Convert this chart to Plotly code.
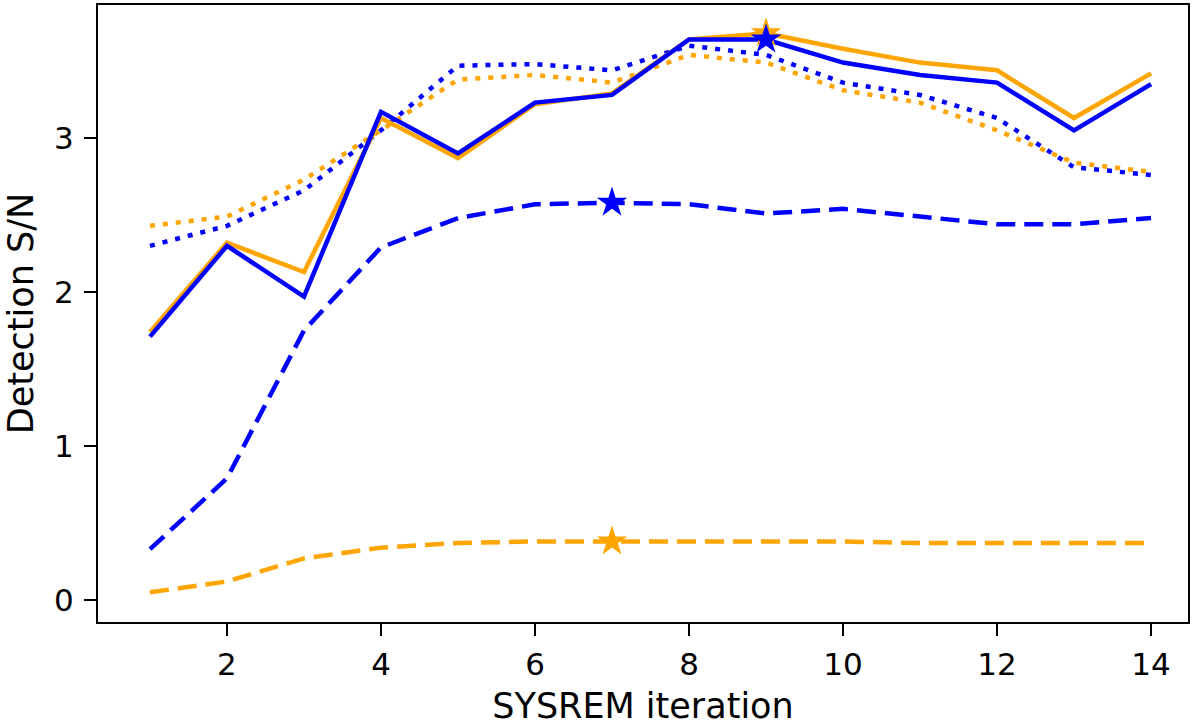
import plotly.graph_objects as go

iterations = list(range(1, 15))
orange_solid = [1.74, 2.32, 2.13, 3.13, 2.87, 3.22, 3.29, 3.64, 3.68, 3.58, 3.49, 3.44, 3.13, 3.42]
blue_solid = [1.71, 2.30, 1.97, 3.17, 2.90, 3.23, 3.28, 3.64, 3.64, 3.49, 3.41, 3.36, 3.05, 3.35]
orange_dotted = [2.43, 2.49, 2.73, 3.05, 3.38, 3.41, 3.36, 3.54, 3.49, 3.31, 3.23, 3.05, 2.84, 2.78]
blue_dotted = [2.30, 2.43, 2.66, 3.05, 3.47, 3.48, 3.44, 3.60, 3.54, 3.36, 3.28, 3.13, 2.81, 2.76]
blue_dashed = [0.33, 0.79, 1.75, 2.29, 2.48, 2.57, 2.58, 2.57, 2.51, 2.54, 2.49, 2.44, 2.44, 2.48]
orange_dashed = [0.05, 0.12, 0.27, 0.34, 0.37, 0.38, 0.38, 0.38, 0.38, 0.38, 0.37, 0.37, 0.37, 0.37]

# best-iteration markers (iteration number)
star_orange_solid = 9
star_blue_solid = 9
star_blue_dashed = 7
star_orange_dashed = 7

ORANGE = "#FFA500"
BLUE = "#0000FF"
DASH = "19px,9px"
DOT = "5px,8px"

fig = go.Figure()

def add_line(y, color, dash):
    fig.add_trace(go.Scatter(x=iterations, y=y, mode="lines",
                             line=dict(color=color, width=4.5, dash=dash),
                             showlegend=False, hoverinfo="skip"))

def add_star(it, y, color):
    fig.add_trace(go.Scatter(x=[it], y=[y[it - 1]], mode="markers",
                             marker=dict(symbol="star", size=23, color=color, line=dict(width=0)),
                             showlegend=False, hoverinfo="skip"))

add_line(orange_dotted, ORANGE, DOT)
add_line(blue_dotted, BLUE, DOT)
add_line(orange_dashed, ORANGE, DASH)
add_line(blue_dashed, BLUE, DASH)
add_line(orange_solid, ORANGE, "solid")
add_line(blue_solid, BLUE, "solid")
add_star(star_orange_dashed, orange_dashed, ORANGE)
add_star(star_blue_dashed, blue_dashed, BLUE)
add_star(star_orange_solid, orange_solid, ORANGE)
add_star(star_blue_solid, blue_solid, BLUE)

axis_common = dict(showline=True, linecolor="black", linewidth=2, mirror=True,
                   ticks="outside", ticklen=12, tickwidth=2, tickcolor="black",
                   showgrid=False, zeroline=False, automargin=False,
                   tickfont=dict(family="DejaVu Sans", size=31, color="black"))

fig.update_layout(
    width=1200, height=726,
    margin=dict(l=98, r=12, t=5, b=104),
    plot_bgcolor="white", paper_bgcolor="white",
    xaxis=dict(range=[0.325, 14.48], tickvals=[2, 4, 6, 8, 10, 12, 14],
               ticklabelstandoff=2,
               title=dict(text="SYSREM iteration", standoff=16,
                          font=dict(family="DejaVu Sans", size=35, color="black")),
               **axis_common),
    yaxis=dict(range=[-0.143, 3.864], tickvals=[0, 1, 2, 3],
               ticklabelstandoff=4,
               title=dict(text="Detection S/N", standoff=10,
                          font=dict(family="DejaVu Sans", size=35, color="black")),
               **axis_common),
)

fig.write_html("out.html")
